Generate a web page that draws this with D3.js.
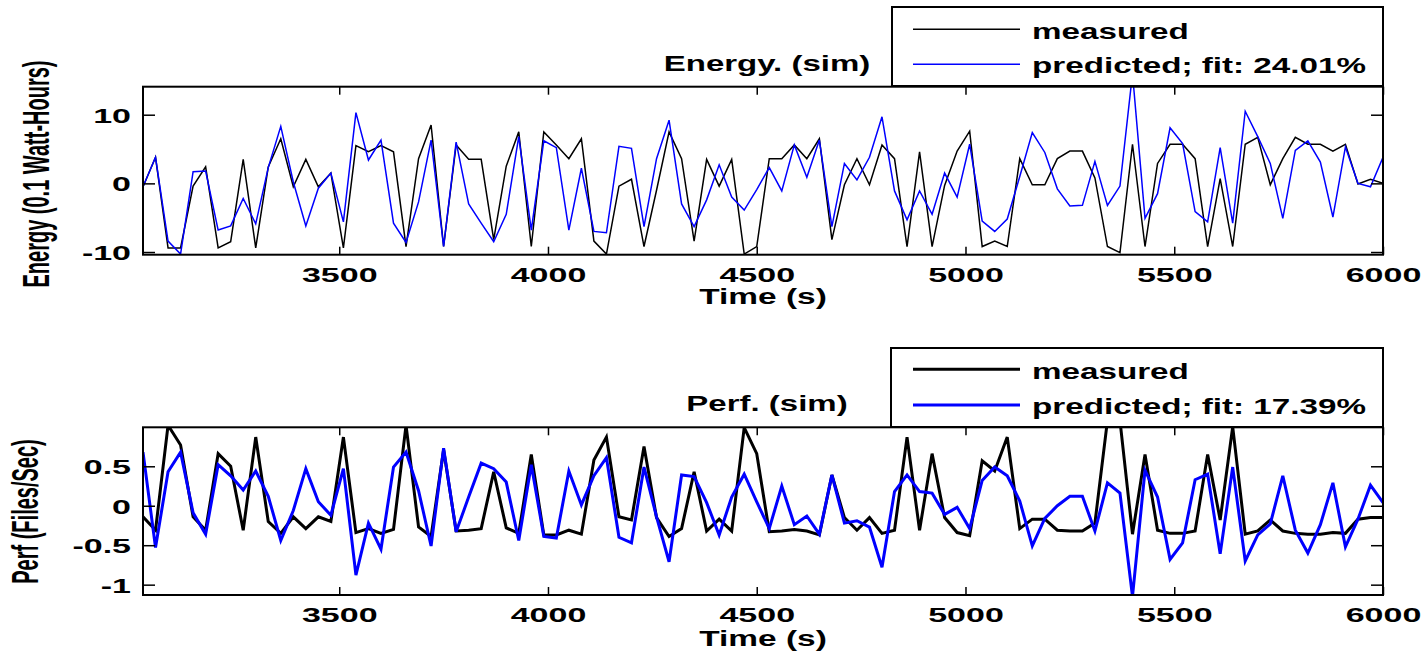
<!DOCTYPE html>
<html>
<head>
<meta charset="utf-8">
<script src="https://cdn.jsdelivr.net/npm/d3@7"></script>
<style>
  body { margin: 0; background: #fff; }
  svg { display: block; }
  text { font-family: "Liberation Sans", Arial, Helvetica, sans-serif; font-weight: bold; fill: #000; }
</style>
</head>
<body>
<svg id="chart" width="1426" height="652"></svg>
<script>
// Sampling: one sample every 30 s starting at t = 3030 s
const startTime = 3030;
const sampleStep = 30;

const energyMeasured = [
  -0.5, 3.8, -9.4, -9.4, -0.4, 2.4, -9.4, -8.5, 3.5, -9.4,
  2.4, 6.5, -0.5, 3.5, -0.5, 1.5, -9.4, 5.5, 4.6, 5.5,
  4.6, -9.2, 3.6, 8.5, -9.2, 5.6, 3.5, 3.5, -8.2, 2.5,
  7.5, -9.2, 7.5, 5.6, 3.6, 6.5, -8.4, -10.3, -0.4, 0.6,
  -9.2, -1.0, 7.5, 3.6, -8.4, 3.5, -0.4, 3.5, -10.3, -9.2,
  3.6, 3.6, 5.6, 3.6, 6.5, -8.2, -0.2, 3.6, -0.2, 5.6,
  3.6, -9.2, 4.6, -9.2, -0.3, 4.7, 7.6, -9.2, -8.4, -9.2,
  3.6, -0.2, -0.2, 3.6, 4.7, 4.7, 0.8, -9.2, -10.1, 5.7,
  -9.2, 2.9, 5.7, 5.7, 3.6, -9.2, 0.7, -9.2, 5.7, 6.7,
  -0.2, 3.6, 6.7, 5.7, 5.7, 4.7, 5.7, -0.1, 0.6, 0.0
];

const energyPredicted = [
  -0.5, 3.8, -8.4, -10.3, 1.7, 1.8, -6.8, -6.2, -2.2, -5.9,
  2.3, 8.3, 0.2, -6.2, -0.7, 1.5, -5.6, 10.3, 3.4, 6.3,
  -5.8, -8.6, -2.7, 6.3, -9.2, 6.0, -3.0, -5.8, -8.5, -4.5,
  6.8, -6.8, 6.2, 5.2, -6.8, 2.2, -7.0, -7.2, 5.4, 5.1,
  -6.3, 3.6, 9.2, -3.0, -6.3, -2.4, 2.7, -2.0, -3.9, -0.9,
  2.3, -1.1, 5.6, 0.9, 6.3, -6.3, 2.9, 0.5, 3.8, 9.7,
  -1.1, -5.3, -1.1, -4.5, 1.5, -2.0, 5.7, -5.5, -7.0, -5.2,
  1.0, 7.4, 4.5, -0.8, -3.3, -3.2, 3.2, -3.2, -0.4, 16.0,
  -5.1, -1.5, 8.1, 5.8, -4.1, -5.6, 5.2, -5.8, 10.5, 6.8,
  2.9, -5.1, 4.8, 6.2, 3.1, -4.9, 5.3, 0.0, -0.5, 3.8
];

const perfMeasured = [
  -0.14, -0.31, 1.02, 0.77, -0.14, -0.31, 0.66, 0.50, -0.31, 0.87,
  -0.20, -0.35, -0.14, -0.29, -0.14, -0.20, 0.87, -0.34, -0.29, -0.35,
  -0.30, 1.02, -0.27, -0.39, 0.71, -0.32, -0.31, -0.29, 0.43, -0.28,
  -0.35, 0.65, -0.37, -0.37, -0.31, -0.36, 0.58, 0.87, -0.14, -0.18,
  0.75, -0.15, -0.39, -0.29, 0.43, -0.32, -0.17, -0.32, 0.99, 0.66,
  -0.33, -0.32, -0.30, -0.32, -0.37, 0.39, -0.15, -0.31, -0.15, -0.35,
  -0.31, 0.87, -0.31, 0.66, -0.15, -0.34, -0.38, 0.57, 0.44, 0.87,
  -0.29, -0.17, -0.17, -0.31, -0.32, -0.32, -0.22, 1.08, 1.08, -0.36,
  0.65, -0.31, -0.35, -0.35, -0.32, 0.65, -0.18, 1.00, -0.36, -0.32,
  -0.18, -0.32, -0.35, -0.36, -0.36, -0.34, -0.35, -0.17, -0.15, -0.15
];

const perfPredicted = [
  0.68, -0.53, 0.43, 0.68, -0.09, -0.36, 0.52, 0.38, 0.20, 0.44,
  0.12, -0.44, -0.06, 0.47, 0.05, -0.12, 0.47, -0.88, -0.22, -0.55,
  0.49, 0.68, 0.19, -0.51, 0.73, -0.33, 0.11, 0.54, 0.47, 0.30,
  -0.44, 0.52, -0.39, -0.41, 0.44, 0.01, 0.38, 0.61, -0.40, -0.47,
  0.49, -0.14, -0.71, 0.39, 0.37, 0.04, -0.37, 0.11, 0.40, 0.05,
  -0.29, 0.25, -0.24, -0.13, -0.36, 0.39, -0.22, -0.19, -0.27, -0.78,
  0.18, 0.39, 0.18, 0.16, -0.11, -0.02, -0.29, 0.32, 0.49, 0.38,
  0.06, -0.51, -0.16, 0.00, 0.12, 0.12, -0.32, 0.29, 0.16, -1.15,
  0.45, 0.11, -0.68, -0.47, 0.33, 0.40, -0.61, 0.49, -0.70, -0.37,
  -0.23, 0.38, -0.31, -0.60, -0.24, 0.29, -0.52, -0.17, 0.26, 0.04
];

const timeTicks = [3500, 4000, 4500, 5000, 5500, 6000];
const energyTicks = [-10, 0, 10];
const energyTickLabels = ["-10", "0", "10"];
const perfTicks = [-1, -0.5, 0, 0.5];
const perfTickLabels = ["-1", "-0.5", "0", "0.5"];
const seriesNames = ["measured", "predicted"];
const energyFit = "24.01%";
const perfFit = "17.39%";

const svg = d3.select("#chart");
const plotLeft = 143, plotRight = 1383;
const xDomain = [3030, 6000];

const x = d3.scaleLinear().domain(xDomain).range([plotLeft, plotRight]);

const panels = [
  {
    id: "energy", top: 86.7, bottom: 254.7, yDomain: [-10.39, 14.08],
    measured: energyMeasured, predicted: energyPredicted,
    ticks: energyTicks, tickLabels: energyTickLabels,
    title: "Energy. (sim)", titleY: 70.8,
    yLabel: "Energy (0.1 Watt-Hours)", yLabelX: 49, yLabelY: 174,
    fit: energyFit, lineWidth: 1.5,
    legend: { x: 892, y: 7, w: 491, h: 79, rows: [29.3, 64.3], base: [38.5, 72.7] },
    timeLabelY: 304
  },
  {
    id: "perf", top: 427.3, bottom: 595, yDomain: [-1.131, 0.994],
    measured: perfMeasured, predicted: perfPredicted,
    ticks: perfTicks, tickLabels: perfTickLabels,
    title: "Perf. (sim)", titleY: 410.8,
    yLabel: "Perf (Files/Sec)", yLabelX: 37.5, yLabelY: 511.5,
    fit: perfFit, lineWidth: 3,
    legend: { x: 891, y: 348, w: 492, h: 79, rows: [369.3, 405], base: [378.5, 414] },
    timeLabelY: 645.5
  }
];

const colors = { measured: "#000000", predicted: "#0000ff" };

panels.forEach(p => {
  const y = d3.scaleLinear().domain(p.yDomain).range([p.bottom, p.top]);
  const g = svg.append("g").attr("class", "panel-" + p.id);
  const h = p.bottom - p.top;

  g.append("clipPath").attr("id", "clip-" + p.id)
    .append("rect").attr("x", plotLeft).attr("y", p.top)
    .attr("width", plotRight - plotLeft).attr("height", h);

  g.append("rect")
    .attr("x", plotLeft).attr("y", p.top)
    .attr("width", plotRight - plotLeft).attr("height", h)
    .attr("fill", "#fff");

  // data lines
  const line = d3.line()
    .x((d, i) => x(startTime + i * sampleStep))
    .y(d => y(d));

  const lines = g.append("g").attr("clip-path", `url(#clip-${p.id})`);
  lines.append("path").datum(p.measured)
    .attr("d", line).attr("fill", "none")
    .attr("stroke", colors.measured).attr("stroke-width", p.lineWidth)
    .attr("stroke-linejoin", "miter").attr("stroke-miterlimit", 4);
  lines.append("path").datum(p.predicted)
    .attr("d", line).attr("fill", "none")
    .attr("stroke", colors.predicted).attr("stroke-width", p.lineWidth)
    .attr("stroke-linejoin", "miter").attr("stroke-miterlimit", 4);

  // bottom axis with labels, ticks pointing inward
  const xAxis = g.append("g").attr("transform", `translate(0,${p.bottom})`)
    .call(d3.axisBottom(x).tickValues(timeTicks).tickSizeInner(-8).tickSizeOuter(0)
      .tickFormat(d3.format("d")));
  xAxis.select(".domain").remove();
  xAxis.selectAll("line").attr("stroke", "#000").attr("stroke-width", 1.5);
  xAxis.selectAll("text")
    .attr("x", null).attr("y", null).attr("dy", null)
    .attr("fill", "#000")
    .style("font-size", "21px")
    .attr("transform", "translate(0,27) scale(1.62,1)");

  // top axis ticks only
  const xTop = g.append("g").attr("transform", `translate(0,${p.top})`)
    .call(d3.axisTop(x).tickValues(timeTicks).tickSizeInner(-8).tickSizeOuter(0).tickFormat(""));
  xTop.select(".domain").remove();
  xTop.selectAll("line").attr("stroke", "#000").attr("stroke-width", 1.5);

  // left axis with labels
  const yAxis = g.append("g").attr("transform", `translate(${plotLeft},0)`)
    .call(d3.axisLeft(y).tickValues(p.ticks).tickSizeInner(-12).tickSizeOuter(0)
      .tickFormat((d, i) => p.tickLabels[i]));
  yAxis.select(".domain").remove();
  yAxis.selectAll("line").attr("stroke", "#000").attr("stroke-width", 1.5);
  yAxis.selectAll("text")
    .attr("x", null).attr("dy", "0.38em")
    .attr("fill", "#000")
    .style("font-size", "20px")
    .attr("text-anchor", "end")
    .attr("transform", "translate(-12,0) scale(1.7,1)");

  // right axis ticks only
  const yRight = g.append("g").attr("transform", `translate(${plotRight},0)`)
    .call(d3.axisRight(y).tickValues(p.ticks).tickSizeInner(-12).tickSizeOuter(0).tickFormat(""));
  yRight.select(".domain").remove();
  yRight.selectAll("line").attr("stroke", "#000").attr("stroke-width", 1.5);

  // axes box
  g.append("rect")
    .attr("x", plotLeft).attr("y", p.top)
    .attr("width", plotRight - plotLeft).attr("height", h)
    .attr("fill", "none").attr("stroke", "#000").attr("stroke-width", 2);

  // x axis title
  g.append("text")
    .attr("text-anchor", "middle")
    .style("font-size", "22px")
    .attr("transform", `translate(${(plotLeft + plotRight) / 2},${p.timeLabelY}) scale(1.52,1)`)
    .text("Time (s)");

  // y axis title
  g.append("text")
    .attr("text-anchor", "middle")
    .style("font-size", "20px")
    .attr("transform", `translate(${p.yLabelX},${p.yLabelY}) scale(1.85,1) rotate(-90)`)
    .text(p.yLabel);

  // panel title
  g.append("text")
    .attr("text-anchor", "middle")
    .style("font-size", "22px")
    .attr("transform", `translate(767,${p.titleY}) scale(1.5,1)`)
    .text(p.title);

  // legend
  const L = p.legend;
  const leg = g.append("g");
  leg.append("rect")
    .attr("x", L.x).attr("y", L.y).attr("width", L.w).attr("height", L.h)
    .attr("fill", "#fff").attr("stroke", "#000").attr("stroke-width", 2);
  const labels = [seriesNames[0], `${seriesNames[1]}; fit: ${p.fit}`];
  const keys = ["measured", "predicted"];
  labels.forEach((lab, k) => {
    leg.append("line")
      .attr("x1", 913).attr("x2", 1020)
      .attr("y1", L.rows[k]).attr("y2", L.rows[k])
      .attr("stroke", colors[keys[k]]).attr("stroke-width", p.lineWidth);
    leg.append("text")
      .style("font-size", "22px")
      .attr("transform", `translate(1032,${L.base[k]}) scale(1.51,1)`)
      .text(lab);
  });
});
</script>
</body>
</html>
